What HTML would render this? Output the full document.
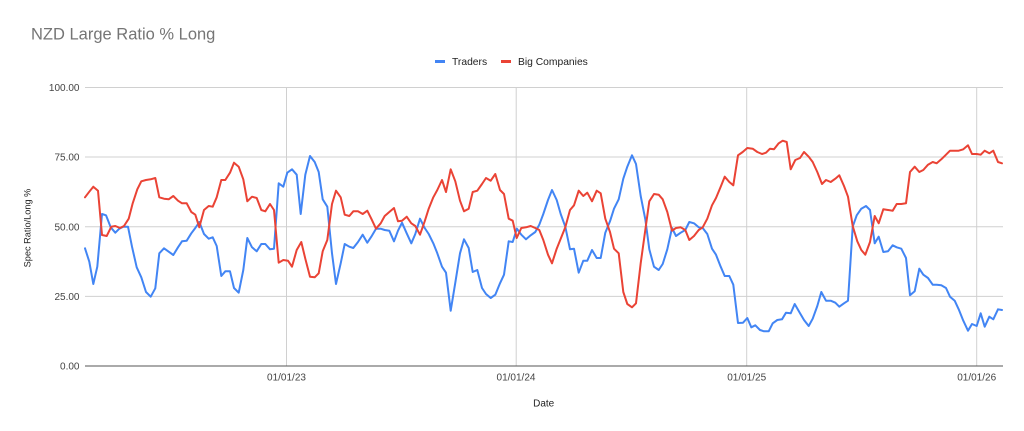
<!DOCTYPE html>
<html><head><meta charset="utf-8"><style>
html,body{margin:0;padding:0;background:#fff;}
svg{display:block;font-family:"Liberation Sans",Arial,sans-serif;}
</style></head><body>
<svg width="1024" height="431" viewBox="0 0 1024 431" xmlns="http://www.w3.org/2000/svg">
<rect width="1024" height="431" fill="#fff"/>
<text x="31" y="39.5" font-size="16.5" fill="#757575">NZD Large Ratio % Long</text>
<!-- legend -->
<rect x="435" y="60" width="10" height="3" fill="#4285f4"/>
<text x="452" y="65" font-size="10.3" fill="#222">Traders</text>
<rect x="501" y="60" width="10" height="3" fill="#ea4335"/>
<text x="518" y="65" font-size="10.3" fill="#222">Big Companies</text>
<!-- gridlines -->
<g stroke="#d0d0d0" stroke-width="1">
<line x1="85" y1="87.5" x2="1003" y2="87.5"/>
<line x1="85" y1="157" x2="1003" y2="157"/>
<line x1="85" y1="226.8" x2="1003" y2="226.8"/>
<line x1="85" y1="296.4" x2="1003" y2="296.4"/>
<line x1="286.5" y1="87.5" x2="286.5" y2="366"/>
<line x1="516.2" y1="87.5" x2="516.2" y2="366"/>
<line x1="746.7" y1="87.5" x2="746.7" y2="366"/>
<line x1="976.7" y1="87.5" x2="976.7" y2="366"/>
</g>
<line x1="85" y1="366" x2="1003" y2="366" stroke="#555" stroke-width="1"/>
<!-- y labels -->
<g font-size="10" fill="#444" text-anchor="end">
<text x="79.5" y="91">100.00</text>
<text x="79.5" y="160.5">75.00</text>
<text x="79.5" y="230.3">50.00</text>
<text x="79.5" y="299.9">25.00</text>
<text x="79.5" y="369.5">0.00</text>
</g>
<text transform="translate(30.5,228) rotate(-90)" font-size="9.2" fill="#222" text-anchor="middle">Spec Ratio/Long %</text>
<!-- x labels -->
<g font-size="10" fill="#444" text-anchor="middle">
<text x="286.5" y="380.5">01/01/23</text>
<text x="516" y="380.5">01/01/24</text>
<text x="746.7" y="380.5">01/01/25</text>
<text x="976.7" y="380.5">01/01/26</text>
</g>
<text x="543.7" y="406.5" font-size="10" fill="#222" text-anchor="middle">Date</text>
<!-- series -->
<polyline fill="none" stroke="#4285f4" stroke-width="2" stroke-linejoin="round" stroke-linecap="round" points="85,248.3 89.3,261.7 93.3,284 97.3,266.7 102,214 106,215.3 110.7,227.3 115.3,232.7 119.3,228.7 123.3,226.7 128,226.7 132,246.7 136.7,267.3 141.3,277.3 146,292 150.7,296.7 155.3,288.3 159.3,253.3 164,248.3 168.7,251.7 173.3,255 178,247.3 182,241.3 186.7,240.7 191.3,233.3 195.3,228 199.3,222 204,234 208.7,238.7 212.7,237.3 216.7,246 221.3,276 225.3,271.3 230,271.3 234,288 238.7,292.7 243.3,270 247.3,238 252,247.3 256.7,251.3 261.3,244 265.3,244 270,249.3 274,248.7 278.7,183.3 283.3,186.7 287.3,172.7 292,169.3 296.7,174.7 300.7,214 305.3,174.7 310,156 314.7,162 318.7,172 322.7,199.3 327.3,206.7 332,253.3 336,284 340.7,263.3 344.7,244 349.3,246.7 353.3,248 358,242 362.7,234.7 367.3,242.7 371.3,236.7 376,228.7 380.7,228.7 384.7,230 389.3,230.7 394,241.3 398,230.7 402,222.7 406.7,233.3 411.3,243.3 415.3,234 420,218.7 424.7,228 428.7,234 433.3,243.3 437.3,253.3 442,266.7 446,272.7 450.7,310.7 455.3,282.7 460,253.3 464,239.3 468.7,248 472.7,272 477.3,270 482,288 486,294 490.7,298 495.3,294.7 500,283.3 504,274.7 508.7,241.3 512.7,242 516.9,228.7 521.3,234.7 526,239.3 530.7,235.3 535.3,232 539.3,224.7 543.3,214 548,200 552,190 556.7,200 560.7,214 565.3,226.7 570,249.3 574,248.7 578.7,272.7 583.3,260.7 587.3,260.7 592,250 596.7,258 600.7,258 605.3,232.7 610,221.3 614,208.7 618.7,199.3 623.3,178.7 627.3,166.7 632,155.3 636,164 640.7,196 645.3,219.3 649.3,249.3 654,266.7 658.7,270 662.7,264 667.3,249.3 672,228 676,236 680.7,232.7 685.3,230 689.3,222 694,223.3 698.7,227.3 702.7,228 707.3,234 712,248.7 716,254.7 720.7,266.7 724.7,276 729.3,276 733.3,284.7 738,323 743,322.7 747.3,318 751.3,327.3 755.3,325.3 760,330 764,331.3 768.7,331.3 772.7,323.3 777.3,320 782,319.3 786,312.7 790.7,313.3 794.7,304 799.3,312 804,320 808.7,326 812.7,318.7 817.3,306 821.3,292 826,300.7 830.7,300.7 835.3,302.7 839.3,306.7 844,303.3 848,300.7 852.7,226.7 856.7,215.3 861.3,208.7 866,206 870,210 874.7,243.3 878.7,236.7 883.3,252 888,251.3 892.7,245.3 896.7,247.3 901.3,248.7 906,258 910,295.3 914.7,291.3 919.3,268.7 923.3,274.7 928,278 932.7,284.7 936.7,284.7 941.3,285.3 946,288 950,296.7 954.7,300.7 958.7,309.3 963.3,320.7 968,330.7 972,324 976.7,326 980.7,313.3 984.7,326.7 989.3,316.7 993.3,319.3 998,309.3 1002,310"/>
<polyline fill="none" stroke="#ea4335" stroke-width="2" stroke-linejoin="round" stroke-linecap="round" points="85,197.3 89.3,191.7 93.3,186.7 98,190.7 102,235 106.7,236 111.3,226.7 115.3,226 120,228 124,226 128.7,218.7 132.7,203.3 137.3,189.3 141.3,181.3 146,180 150.7,179.3 155.3,178 159.3,197.3 164,198.7 168.7,199.3 173.3,196 178,200.7 182,203.3 186.7,203.3 191.3,212 195.3,214.7 199.3,227.3 204,210 208.7,206 212.7,206.7 216.7,197.3 221.3,180 225.3,180 230,172.7 234,162.7 238.7,166.7 243.3,179.3 247.3,201.3 252,196.7 256.7,198 261.3,210 265.3,211.3 270,204 274,210 278.7,262.7 283.3,260 288,260.7 292,266.7 296.7,250 301.3,242 305.3,258.7 310,276.7 314.7,277.3 318.7,273.3 322.7,251.3 327.3,240 332,204 336,190.7 340.7,197.3 344.7,214.7 349.3,216 353.3,211.3 358,211.3 362.7,214 367.3,210.7 371.3,218.7 376,228.7 380.7,223.3 384.7,216 389.3,212 394,208 398,221.3 402,220.7 406.7,216.7 411.3,223.3 415.3,226 420,234.7 424.7,221.3 428.7,208.7 433.3,197.3 437.3,190 442,180 446,192 450.7,169.3 455.3,181.3 460,200.7 464,211.3 468.7,208.7 472.7,192 477.3,190.7 482,184 486,178 490.7,180.7 495.3,174 500,190 504,194 508.7,218.7 512.7,220.7 516.7,238 521.3,228 526,227.3 530.7,226 535.3,228 539.3,230 543.3,240 548,254.7 552,263.3 556.7,248.7 560.7,238.7 565.3,227.3 570,210 574,205.3 578.7,190.7 583.3,196 587.3,192.7 592,201.3 596.7,190.7 600.7,193.3 605.3,218.7 610,232 614,248.7 618.7,253.3 623.3,292 627.3,304 632,307.3 636,303.3 640.7,263.3 645.3,230 649.3,201.3 654,194 658.7,194.7 662.7,199.3 667.3,212 672,230.7 676,228 680.7,227.3 685.3,230 689.3,240 694,236 698.7,230 702.7,227.3 707.3,218.7 712,205.3 716,198 720.7,186.7 724.7,176.7 729.3,182 733.3,185.3 738,155.3 742.7,152 747.3,148 752.7,148.7 757.3,152 762,154 766,152.7 770,148.7 774,149.3 778.7,143.3 782.7,140.7 786.7,142 790.7,169.3 795.3,160 800,158 804,152 808.7,156.7 812.7,162 817.3,172 822,184 826,180 830.7,182 835.3,178.7 839.3,175.3 844,186 848,196.7 852.7,226 857.3,241.3 861.3,250 865.3,254.7 870,242 874.7,216 878.7,223.3 883.3,209.3 888,210 892.7,210.7 896.7,204 901.3,204 906,203.3 910,172 914.7,166.7 919.3,172 923.3,170 928,164.7 932.7,162 936.7,163.3 941.3,159.3 946,154.7 950,150.7 954.7,150.7 958.7,150.7 963.3,149.3 968,145.3 972,154 976.7,154 980.7,154.7 984.7,150.7 989.3,153.3 993.3,150.7 998,162 1002,163.3"/>
</svg>
</body></html>
